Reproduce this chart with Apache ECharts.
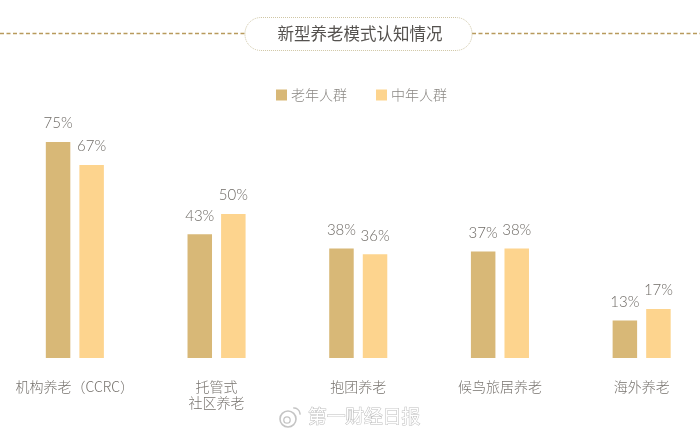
<!DOCTYPE html>
<html><head><meta charset="utf-8">
<style>html,body{margin:0;padding:0;background:#fff}#c{width:700px;height:434px}</style>
<script src="https://cdn.jsdelivr.net/npm/echarts@6/dist/echarts.min.js"></script>
</head><body><div id="c"></div>
<script>
const categories = ['机构养老（CCRC）', '托管式\n社区养老', '抱团养老', '候鸟旅居养老', '海外养老'];
const seniorName = '老年人群';
const middleName = '中年人群';
const seniorValues = [75, 43, 38, 37, 13];
const middleValues = [67, 50, 36, 38, 17];
const titleText = '新型养老模式认知情况';
const watermarkText = '第一财经日报';
const cjk = '"Noto Sans CJK SC","Noto Sans",sans-serif';
const latin = 'Lato,"Noto Sans CJK SC",sans-serif';
const chart = echarts.init(document.getElementById('c'), null, {renderer:'canvas'});
const labelStyle = {show:true, position:'top', distance:11, formatter:p=>p.value+'%', fontFamily:latin, fontSize:15, fontWeight:300, color:'#6f6b66'};
chart.setOption({
  animation:false,
  backgroundColor:'#fff',
  grid:{left:4, top:70, width:708.5, height:288, outerBoundsMode:'none'},
  legend:{
    left:276, top:88, padding:0, itemWidth:11, itemHeight:11, itemGap:29,
    icon:'rect',
    textStyle:{fontFamily:cjk, fontSize:14, fontWeight:300, color:'#8a8783', padding:[0,0,2,-1]},
    data:[seniorName, middleName]
  },
  xAxis:{type:'category', data:categories, axisLine:{show:false}, axisTick:{show:false},
    axisLabel:{interval:0, margin:20, fontFamily:cjk, fontSize:14, lineHeight:16.5, fontWeight:300, color:'#77736e', verticalAlign:'top'}},
  yAxis:{type:'value', min:0, max:100, show:false, splitLine:{show:false}},
  series:[
    {name:seniorName, type:'bar', data:seniorValues, barWidth:24.5, barGap:'37%', itemStyle:{color:'#d8b877'}, label:labelStyle},
    {name:middleName, type:'bar', data:middleValues, barWidth:24.5, barGap:'37%', itemStyle:{color:'#fdd48e'}, label:labelStyle}
  ],
  graphic:{elements:[
    {type:'line', shape:{x1:0,y1:33.5,x2:245,y2:33.5}, style:{stroke:'#b89a5c', lineWidth:1.6, lineDash:[4,2.5]}},
    {type:'line', shape:{x1:472,y1:33.5,x2:700,y2:33.5}, style:{stroke:'#b89a5c', lineWidth:1.6, lineDash:[4,2.5]}},
    {type:'rect', shape:{x:245,y:17.5,width:227,height:33,r:16}, style:{fill:'#fff', stroke:'#cfc6a4', lineWidth:1, lineDash:[1,1]}},
    {type:'text', x:360, y:34, style:{text:titleText, align:'center', verticalAlign:'middle', fontFamily:cjk, fontSize:16.5, fill:'#55524f'}},
    {type:'text', x:308, y:416, style:{text:watermarkText, align:'left', verticalAlign:'middle', fontFamily:cjk, fontSize:18.7, fill:'#fff', stroke:'#bdbdbd', lineWidth:1}},
    {type:'circle', shape:{cx:288,cy:419,r:8}, style:{fill:'#fff', stroke:'#c4c4c4', lineWidth:1.6}},
    {type:'circle', shape:{cx:287,cy:420,r:3.2}, style:{fill:'#fff', stroke:'#c4c4c4', lineWidth:1.3}},
    {type:'arc', shape:{cx:294,cy:414,r:6,startAngle:-1.7,endAngle:0.1}, style:{fill:'none', stroke:'#c4c4c4', lineWidth:1.5}}
  ]}
});
</script></body></html>
